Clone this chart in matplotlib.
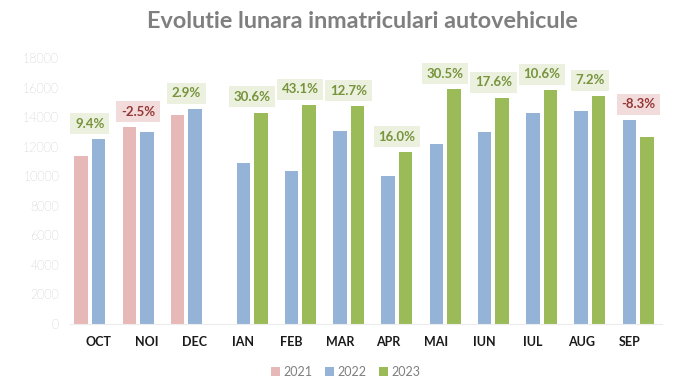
import numpy as np
import matplotlib
matplotlib.use("Agg")
import matplotlib.pyplot as plt

months = ["OCT", "NOI", "DEC", "IAN", "FEB", "MAR", "APR", "MAI", "IUN", "IUL", "AUG", "SEP"]
nan = np.nan
v2021 = [11350, 13300, 14130, nan, nan, nan, nan, nan, nan, nan, nan, nan]
v2022 = [12500, 12970, 14540, 10920, 10330, 13070, 9990, 12150, 13000, 14310, 14380, 13790]
v2023 = [nan, nan, nan, 14310, 14830, 14720, 11620, 15870, 15290, 15830, 15420, 12650]
pct = [9.4, -2.5, 2.9, 30.6, 43.1, 12.7, 16.0, 30.5, 17.6, 10.6, 7.2, -8.3]
years = ["2021", "2022", "2023"]
yticks = [0, 2000, 4000, 6000, 8000, 10000, 12000, 14000, 16000, 18000]

colors = ["#e6b9b8", "#95b3d7", "#9bbb59"]
plt.rcParams['font.family'] = ['Lato', 'DejaVu Sans']

W, H = 683, 385
fig = plt.figure(figsize=(W / 100, H / 100), dpi=100)
left_px, right_px, bot_px, top_px = 70, 662, 324, 58
ax = fig.add_axes([left_px / W, (H - bot_px) / H, (right_px - left_px) / W, (bot_px - top_px) / H])

pitch = 48.27
slot = 17.5 / pitch
bw = 13.5 / pitch
x = np.arange(len(months))
series = [v2021, v2022, v2023]
for k, (vals, c, lab) in enumerate(zip(series, colors, years)):
    ax.bar(x + (k - 1) * slot, vals, width=bw, color=c, label=lab, zorder=2)

ax.set_xlim((left_px - 98.5) / pitch, (right_px - 98.5) / pitch)
ax.set_ylim(0, 18000)
ax.set_yticks(yticks)
ax.set_yticklabels([str(t) for t in yticks], color="#8c8c8c", fontsize=9, fontweight="light")
ax.set_xticks(x)
ax.set_xticklabels(months, fontweight="bold", fontsize=9, color="#1a1a1a")
ax.tick_params(axis="both", length=0)
ax.tick_params(axis="x", pad=9)
ax.tick_params(axis="y", pad=8)
for s in ["top", "right", "left"]:
    ax.spines[s].set_visible(False)
ax.spines["bottom"].set_color("#ececec")

for i in range(len(months)):
    offs = [(k - 1) * slot for k in range(3) if not np.isnan(series[k][i])]
    vals = [series[k][i] for k in range(3) if not np.isnan(series[k][i])]
    cx = x[i] + np.mean(offs)
    top = max(vals)
    p = pct[i]
    if p >= 0:
        tc, bc = "#77933c", "#ebf1de"
    else:
        tc, bc = "#953735", "#f2dcdb"
    ax.annotate(f"{p:.1f}%", (cx, top), xytext=(0, 7), textcoords="offset points",
                ha="center", va="bottom", fontsize=9.5, fontweight="bold", color=tc,
                bbox=dict(boxstyle="square,pad=0.35", fc=bc, ec="none"), zorder=3)

fig.text(362 / W, 1 - 22 / H, "Evolutie lunara inmatriculari autovehicule", ha="center", va="center",
         fontsize=16.8, fontweight="bold", color="#7f7f7f")

leg = fig.legend(loc="center", bbox_to_anchor=(346 / W, 1 - 372 / H), ncol=3, frameon=False,
                 fontsize=9, handlelength=0.7, handleheight=0.7, handletextpad=0.3, columnspacing=1.0)
for t in leg.get_texts():
    t.set_color("#7f7f7f")

fig.savefig("out.png", dpi=100, facecolor="white")
